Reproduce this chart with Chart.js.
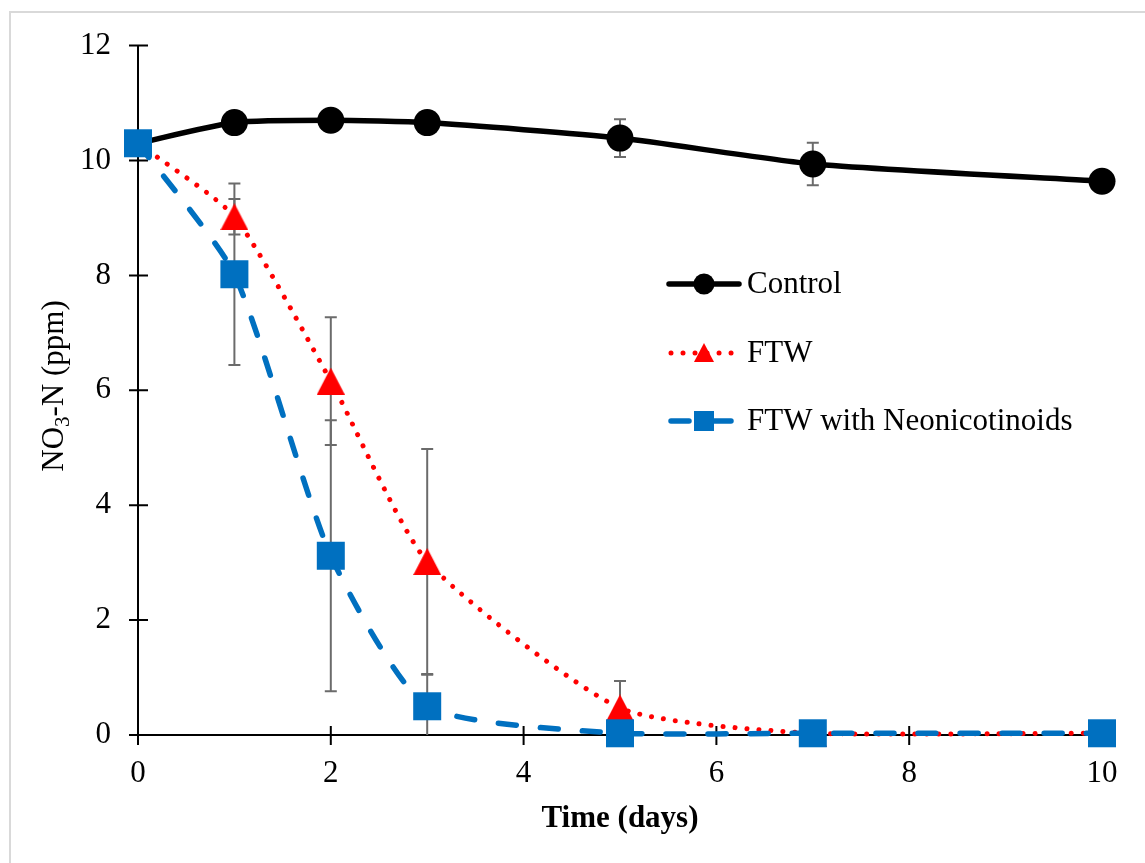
<!DOCTYPE html>
<html>
<head>
<meta charset="utf-8">
<script src="https://cdn.jsdelivr.net/npm/chart.js@4.4.1/dist/chart.umd.min.js"></script>
<style>
html,body{margin:0;padding:0;background:#fff;}
canvas{display:block;}
</style>
</head>
<body>
<canvas id="c" width="1145" height="863"></canvas>
<script>
// ---- data ----
const days = [0, 1, 2, 3, 5, 7, 10];
const controlVals = [10.30, 10.66, 10.70, 10.66, 10.39, 9.94, 9.64];
const controlErr  = [0, 0, 0, 0, 0.33, 0.37, 0];
const ftwVals = [10.30, 9.02, 6.16, 3.02, 0.47, 0.03, 0.03];
const ftwErr  = [0, 0.31, 1.11, 1.96, 0.47, 0, 0];
const neoVals = [10.30, 8.02, 3.12, 0.50, 0.03, 0.03, 0.03];
const neoErr  = [0, 1.58, 2.36, 0.55, 0, 0, 0];
const seriesNames = ['Control', 'FTW', 'FTW with Neonicotinoids'];
const xTitle = 'Time (days)';
const yTitleParts = ['NO', '3', '-N (ppm)'];

const FONT = 'Liberation Serif, "Times New Roman", serif';
const BLUE = '#0070C0', RED = '#FF0000', BLACK = '#000000', ERRC = '#6b6b6b';
const TENSION = 0.2;

function triCanvas(w, h, color) {
  const c = document.createElement('canvas');
  c.width = w; c.height = h;
  const g = c.getContext('2d');
  g.fillStyle = color;
  g.beginPath(); g.moveTo(w / 2, 0); g.lineTo(w, h); g.lineTo(0, h); g.closePath(); g.fill();
  return c;
}
const triImg = triCanvas(28, 27, RED);

function pts(vals) { return days.map((d, i) => ({x: d, y: vals[i]})); }

const errMap = [controlErr, ftwErr, neoErr];

const frame = {
  id: 'frame',
  beforeDraw(chart) {
    const ctx = chart.ctx;
    ctx.save();
    ctx.fillStyle = '#fff';
    ctx.fillRect(0, 0, chart.width, chart.height);
    ctx.strokeStyle = '#d9d9d9';
    ctx.lineWidth = 2;
    ctx.strokeRect(10, 12, chart.width + 20, chart.height + 20);
    ctx.restore();
  },
  beforeDatasetsDraw(chart) {
    const ctx = chart.ctx, xs = chart.scales.x, ys = chart.scales.y, a = chart.chartArea;
    ctx.save();
    // axes
    ctx.strokeStyle = '#000'; ctx.lineWidth = 2;
    ctx.beginPath();
    ctx.moveTo(a.left, a.top); ctx.lineTo(a.left, a.bottom);
    ctx.moveTo(a.left, a.bottom); ctx.lineTo(a.right, a.bottom);
    xs.ticks.forEach(t => { const p = xs.getPixelForValue(t.value); ctx.moveTo(p, a.bottom - 9); ctx.lineTo(p, a.bottom + 10); });
    ys.ticks.forEach(t => { const p = ys.getPixelForValue(t.value); ctx.moveTo(a.left - 9, p); ctx.lineTo(a.left + 10, p); });
    ctx.stroke();
    // error bars
    ctx.beginPath();
    ctx.rect(a.left - 20, a.top - 20, a.right - a.left + 40, a.bottom - a.top + 20);
    ctx.clip();
    ctx.strokeStyle = ERRC; ctx.lineWidth = 2;
    chart.data.datasets.forEach((ds, di) => {
      const errs = errMap[di];
      ds.data.forEach((p, i) => {
        const e = errs[i];
        if (!e) return;
        const px = xs.getPixelForValue(p.x);
        const yt = ys.getPixelForValue(p.y + e);
        const yb = ys.getPixelForValue(p.y - e);
        ctx.beginPath();
        ctx.moveTo(px, yt); ctx.lineTo(px, yb);
        ctx.moveTo(px - 6, yt); ctx.lineTo(px + 6, yt);
        ctx.moveTo(px - 6, yb); ctx.lineTo(px + 6, yb);
        ctx.stroke();
      });
    });
    ctx.restore();
  },
  afterDatasetsDraw(chart) {
    const ctx = chart.ctx, a = chart.chartArea;
    ctx.save();
    // legend
    const ly = [284, 353, 421];
    const x0 = 669, xm = 704, tx = 747;
    chart.data.datasets.forEach((ds, i) => {
      const y = ly[i];
      ctx.save();
      ctx.strokeStyle = ds.borderColor;
      ctx.lineWidth = ds.borderWidth;
      ctx.lineCap = ds.borderCapStyle || 'butt';
      ctx.setLineDash(ds.borderDash || []);
      ctx.beginPath();
      const x1 = i === 0 ? 739 : (i === 1 ? 733 : 731);
      ctx.moveTo(x0 + (i === 0 ? 0 : 2), y); ctx.lineTo(x1, y);
      ctx.stroke();
      ctx.restore();
      ctx.fillStyle = ds.pointBackgroundColor;
      if (i === 0) {
        ctx.beginPath(); ctx.arc(xm, y, 10.5, 0, Math.PI * 2); ctx.fill();
      } else if (i === 1) {
        ctx.beginPath(); ctx.moveTo(xm, y - 10); ctx.lineTo(xm + 10, y + 9); ctx.lineTo(xm - 10, y + 9); ctx.closePath(); ctx.fill();
      } else {
        ctx.fillRect(xm - 10, y - 10, 20, 20);
      }
      ctx.fillStyle = '#000';
      ctx.font = '31px ' + FONT;
      ctx.textBaseline = 'middle';
      ctx.textAlign = 'left';
      ctx.fillText(seriesNames[i], tx, y + 1);
    });
    // x title
    ctx.font = 'bold 31px ' + FONT;
    ctx.textAlign = 'center';
    ctx.textBaseline = 'alphabetic';
    ctx.fillText(xTitle, (a.left + a.right) / 2, 827);
    // y title with subscript
    ctx.save();
    ctx.translate(63, 386);
    ctx.rotate(-Math.PI / 2);
    const fMain = '31px ' + FONT, fSub = '21px ' + FONT;
    ctx.font = fMain; const w1 = ctx.measureText(yTitleParts[0]).width;
    ctx.font = fSub; const w2 = ctx.measureText(yTitleParts[1]).width;
    ctx.font = fMain; const w3 = ctx.measureText(yTitleParts[2]).width;
    let sx = -(w1 + w2 + w3) / 2;
    ctx.textAlign = 'left';
    ctx.font = fMain; ctx.fillText(yTitleParts[0], sx, 0); sx += w1;
    ctx.font = fSub; ctx.fillText(yTitleParts[1], sx, 6); sx += w2;
    ctx.font = fMain; ctx.fillText(yTitleParts[2], sx, 0);
    ctx.restore();
    ctx.restore();
  }
};

new Chart(document.getElementById('c'), {
  type: 'line',
  data: {
    datasets: [
      {
        label: seriesNames[0], data: pts(controlVals), order: 3,
        borderColor: BLACK, borderWidth: 5.5, borderCapStyle: 'round', tension: TENSION,
        pointStyle: 'circle', pointRadius: 13.5, pointBackgroundColor: BLACK, pointBorderColor: BLACK, pointBorderWidth: 0,
        clip: false
      },
      {
        label: seriesNames[1], data: pts(ftwVals), order: 2,
        borderColor: RED, borderWidth: 5, borderDash: [0.01, 12], borderCapStyle: 'round', tension: TENSION,
        pointStyle: triImg, pointRadius: 14, pointBackgroundColor: RED, pointBorderColor: RED, pointBorderWidth: 0,
        clip: false
      },
      {
        label: seriesNames[2], data: pts(neoVals), order: 1,
        borderColor: BLUE, borderWidth: 5.5, borderDash: [18, 24], borderCapStyle: 'round', tension: TENSION,
        pointStyle: 'rect', pointRadius: 19.8, pointBackgroundColor: BLUE, pointBorderColor: BLUE, pointBorderWidth: 0,
        clip: false
      }
    ]
  },
  options: {
    responsive: false,
    animation: false,
    events: [],
    layout: { padding: { left: 0, top: 43, right: 43, bottom: 0 } },
    scales: {
      x: {
        type: 'linear', min: 0, max: 10,
        ticks: { stepSize: 2, color: '#000', font: { family: FONT, size: 31 }, padding: 20, maxRotation: 0 },
        grid: { display: false, drawTicks: false },
        border: { display: false },
        afterFit(s) { s.height = 128; }
      },
      y: {
        type: 'linear', min: 0, max: 12,
        ticks: { stepSize: 2, color: '#000', font: { family: FONT, size: 31 }, padding: 27 },
        grid: { display: false, drawTicks: false },
        border: { display: false },
        afterFit(s) { s.width = 138; }
      }
    },
    plugins: { legend: { display: false }, tooltip: { enabled: false } }
  },
  plugins: [frame]
});
</script>
</body>
</html>
